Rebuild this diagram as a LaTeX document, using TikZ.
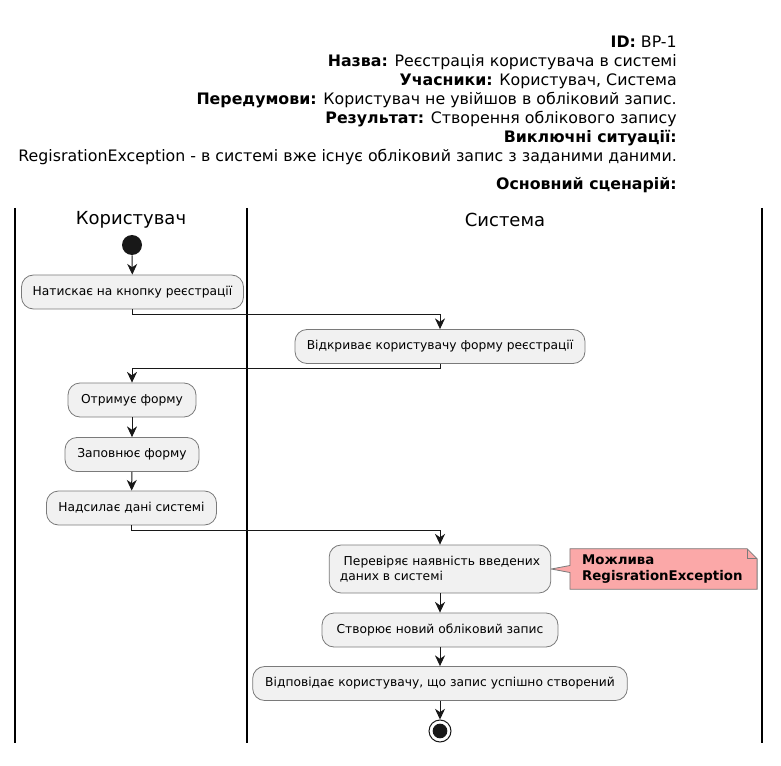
\documentclass[tikz,border=0pt]{standalone}
\usepackage{fontspec}
\setmainfont{DejaVu Sans}
\usepackage{xcolor}
\usetikzlibrary{arrows.meta, positioning, calc, backgrounds}

\definecolor{actfill}{HTML}{F1F1F1}
\definecolor{actline}{HTML}{7A7A7A}
\definecolor{flowline}{HTML}{181818}
\definecolor{notefill}{HTML}{FBA8A8}

\tikzset{
  action/.style={draw=actline, fill=actfill, rounded corners=9pt, line width=0.6pt,
    minimum height=25.5pt, inner xsep=8pt, font=\fontsize{9.2}{11.2}\selectfont},
  flow/.style={draw=flowline, line width=0.75pt, -{Stealth[length=8pt,width=7.5pt,inset=2.5pt]}},
  lane/.style={line width=1.1pt},
  lanetitle/.style={font=\fontsize{13.5}{16}\selectfont}
}

\begin{document}
\begin{tikzpicture}[x=0.75pt, y=-0.75pt]
\useasboundingbox (0,0) rectangle (781,766);

% header
\node[anchor=north east, inner sep=0pt, align=right, font=\fontsize{11.85}{14.25}\selectfont] (header) at (677,36)
  {\textbf{ID:} BP-1\\
   \textbf{Назва:} Реєстрація користувача в системі\\
   \textbf{Учасники:} Користувач, Система\\
   \textbf{Передумови:} Користувач не увійшов в обліковий запис.\\
   \textbf{Результат:} Створення облікового запису\\
   \textbf{Виключні ситуації:}\\
   RegisrationException - в системі вже існує обліковий запис з заданими даними.\\[6.5pt]
   \textbf{Основний сценарій:}};

% swimlanes
\draw[lane] (15,208) -- (15,743);
\draw[lane] (247,208) -- (247,743);
\draw[lane] (762,208) -- (762,743);
\node[lanetitle] (userlane) at (131,220) {Користувач};
\node[lanetitle] (syslane) at (505,220) {Система};

% activities
\node[circle, fill=flowline, minimum size=15pt, inner sep=0pt] (start) at (132,245) {};
\node[action, minimum width=166.5pt] (klick) at (132.5,292) {Натискає на кнопку реєстрації};
\node[action, minimum width=217.5pt] (open) at (440,346.5) {Відкриває користувачу форму реєстрації};
\node[action, minimum width=96pt] (get) at (132,400) {Отримує форму};
\node[action, minimum width=100.5pt] (fill) at (132,454.5) {Заповнює форму};
\node[action, minimum width=127.5pt] (send) at (131.5,508) {Надсилає дані системі};
\node[action, minimum width=165pt, minimum height=36pt, align=left] (check) at (440,569)
  {\ Перевіряє наявність введених\\даних в системі};
\node[action, minimum width=177pt] (create) at (440,630) {Створює новий обліковий запис};
\node[action, minimum width=281pt] (reply) at (440,683.5) {Відповідає користувачу, що запис успішно створений};
\node[circle, draw=flowline, line width=0.75pt, minimum size=16.5pt, inner sep=0pt] (stop) at (440,731) {};
\fill[flowline] (stop.center) circle (5.5pt);

% note
\node[minimum width=140pt, minimum height=30pt, inner xsep=9pt, align=left,
  font=\bfseries\fontsize{10}{11.5}\selectfont, text width=122pt] (note) at (663.5,569)
  {Можлива\\RegisrationException};
\begin{scope}[on background layer]
\fill[notefill, draw=actline, line width=0.6pt]
  (note.south west) -- ($(note.west)+(0,3.5)$) -- (check.east) -- ($(note.west)+(0,-3.5)$)
  -- (note.north west) -- ($(note.north east)+(-10,0)$) -- ($(note.north east)+(0,10)$)
  -- (note.south east) -- cycle;
\end{scope}
\draw[actline, line width=0.6pt] ($(note.north east)+(-10,0)$) -- ++(0,10) -- ++(10,0);

% connectors
\draw[flow] (start) -- (klick);
\draw[flow] (klick.south) -- ++(0,5) -| (open.north);
\draw[flow] (open.south) -- ++(0,5) -| (get.north);
\draw[flow] (get) -- (fill);
\draw[flow] (fill) -- (send);
\draw[flow] (send.south) -- ++(0,5) -| (check.north);
\draw[flow] (check) -- (create);
\draw[flow] (create) -- (reply);
\draw[flow] (reply) -- (stop);
\end{tikzpicture}
\end{document}
